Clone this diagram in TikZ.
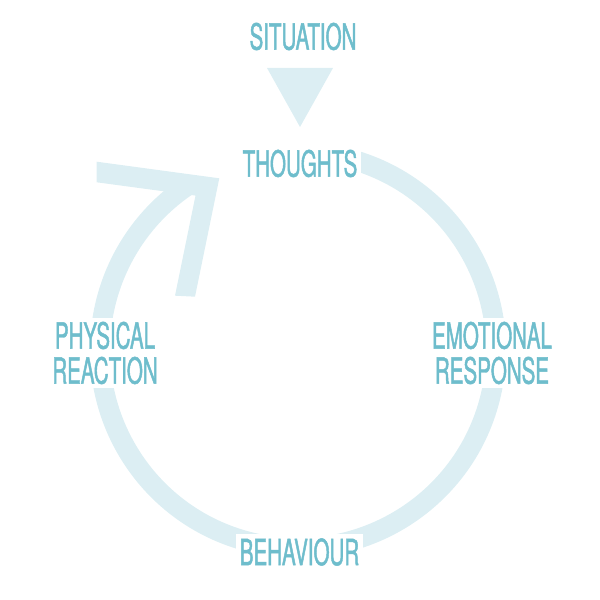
\documentclass[tikz,border=0pt]{standalone}
\usepackage{fontspec}
\setmainfont[FakeStretch=0.57,FakeBold=1.2]{TeX Gyre Heros}
\usetikzlibrary{positioning}
\definecolor{ringblue}{RGB}{220,238,243}
\definecolor{labelblue}{RGB}{110,189,204}

\begin{document}
\begin{tikzpicture}[x=1pt,y=1pt,
lbl/.style={text=labelblue,fill=white,font=\fontsize{36}{35}\selectfont,align=center,inner sep=4pt},
ring/.style={draw=ringblue,line width=20pt}]
\useasboundingbox (0,0) rectangle (600,600);
\coordinate (c) at (298,250);
% cycle ring and its head
\draw[ring] (c) ++(76:198) arc[start angle=76,end angle=-237,radius=198];
\fill[ringblue] (96.7,438.3) -- (219.3,421.7) -- (195,303.3) -- (175,304.3) -- (195.5,404.4) -- (96.7,417.7) -- cycle;
% triangle under the trigger
\fill[ringblue] (267,532) -- (333,532) -- (300,473) -- cycle;
\node[lbl] (situation) at (303,563.5) {SITUATION};
\node[lbl] (thoughts) at (300,436.5) {THOUGHTS};
\node[lbl] (emotional) at (492,247) {EMOTIONAL\\RESPONSE};
\node[lbl] (behaviour) at (299.5,48) {BEHAVIOUR};
\node[lbl] (physical) at (105,247) {PHYSICAL\\REACTION};
\end{tikzpicture}
\end{document}
